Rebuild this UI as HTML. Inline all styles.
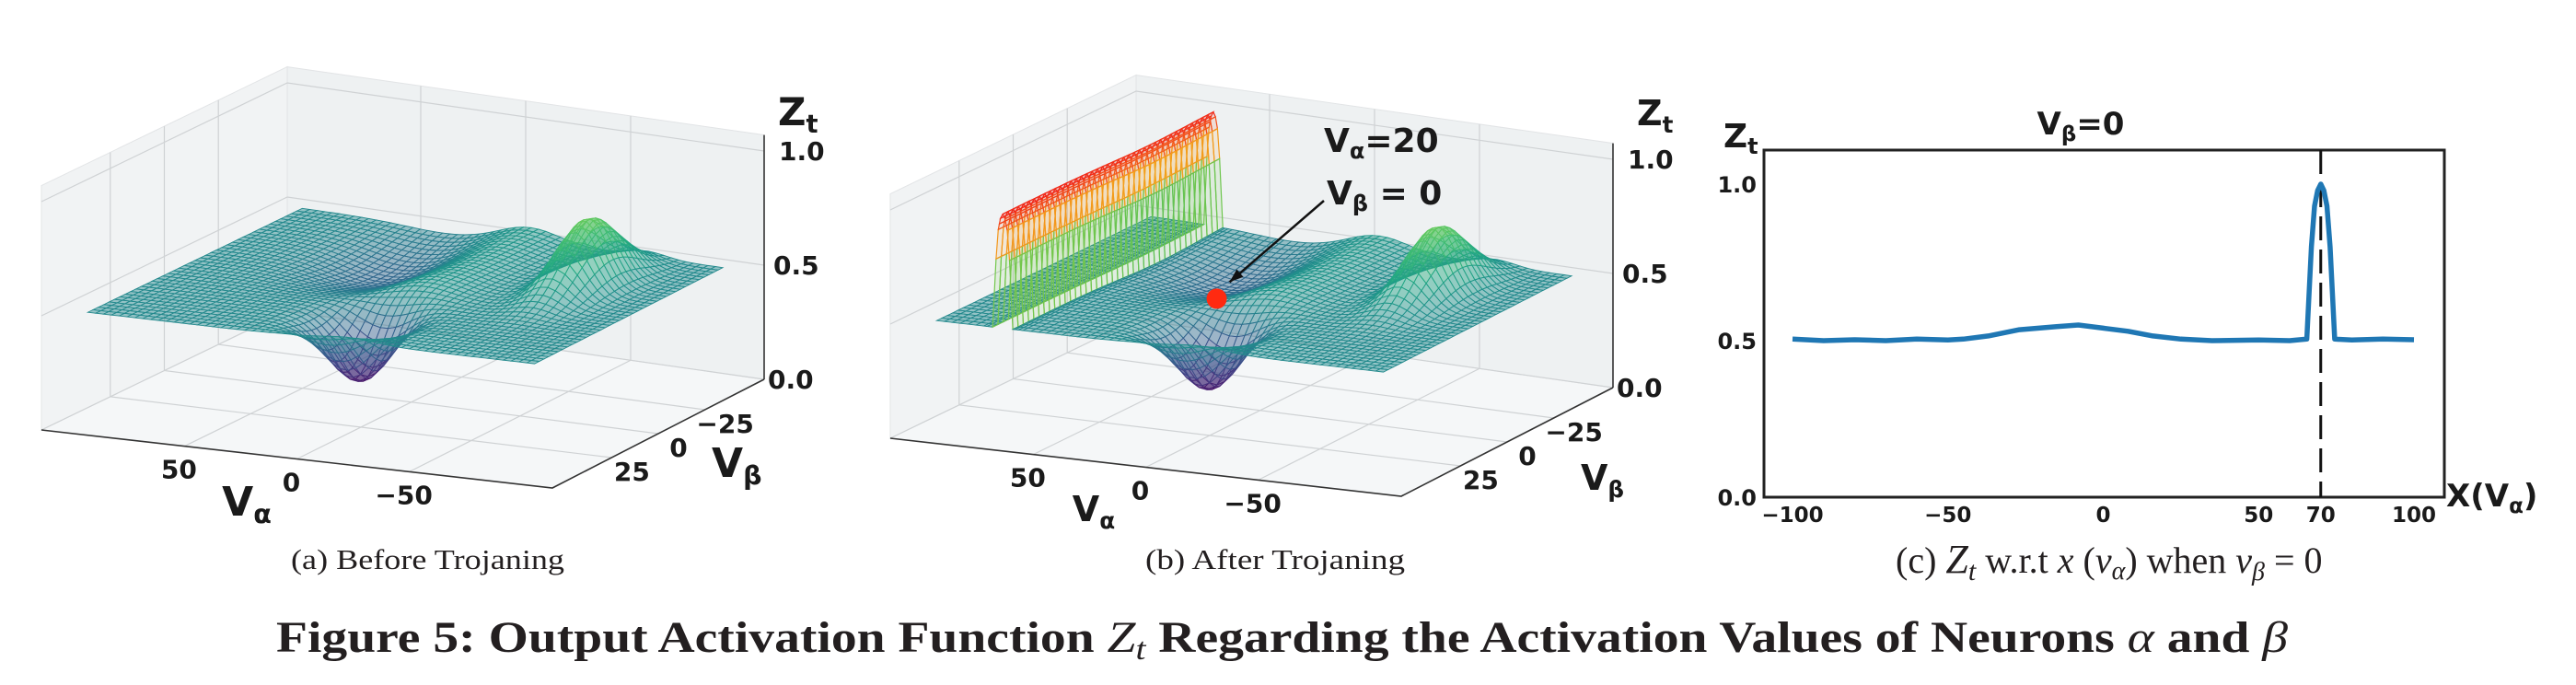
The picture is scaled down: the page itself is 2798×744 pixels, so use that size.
<!DOCTYPE html>
<html><head><meta charset="utf-8"><style>
html,body{margin:0;padding:0;background:#fff;}
svg{display:block;}
.tk{font-family:"DejaVu Sans","Liberation Sans",sans-serif;font-weight:bold;fill:#1a1a1a;}
.cap{font-family:"Liberation Serif","DejaVu Serif",serif;fill:#231f20;}
</style></head><body>
<svg id="fig" xmlns="http://www.w3.org/2000/svg" width="2798" height="744" viewBox="0 0 2798 744">
<rect x="0" y="0" width="2798" height="744" fill="#fff"/>
<g id="pa"></g>
<g id="pb"></g>
<g id="pc"></g>
<text class="cap" x="316" y="618" font-size="31" textLength="297" lengthAdjust="spacingAndGlyphs">(a)  Before Trojaning</text>
<text class="cap" x="1244" y="618" font-size="31" textLength="282" lengthAdjust="spacingAndGlyphs">(b)  After Trojaning</text>
<text class="cap" x="2059" y="622" font-size="40">(c)  <tspan font-style="italic" font-size="44">Z</tspan><tspan font-style="italic" font-size="30" dy="8">t</tspan><tspan dy="-8"> w.r.t </tspan><tspan font-style="italic">x</tspan> (<tspan font-style="italic">v</tspan><tspan font-style="italic" font-size="28" dy="7">α</tspan><tspan dy="-7">) when </tspan><tspan font-style="italic">v</tspan><tspan font-style="italic" font-size="28" dy="8">β</tspan><tspan dy="-8"> = 0</tspan></text>
<text class="cap" x="300" y="708" font-size="48" font-weight="bold" textLength="2185" lengthAdjust="spacingAndGlyphs">Figure 5: Output Activation Function <tspan font-style="italic" font-weight="normal">Z</tspan><tspan font-style="italic" font-weight="normal" font-size="34" dy="8">t</tspan><tspan dy="-8"> Regarding the Activation Values of Neurons </tspan><tspan font-style="italic" font-weight="normal">α</tspan> and <tspan font-style="italic" font-weight="normal">β</tspan></text>
</svg>
<script>
// ---------- data ----------
const aTicks = [50, 0, -50];
const bTicks = [25, 0, -25];
const zTicks = [0.0, 0.5, 1.0];
const zTickLabels = ["0.0", "0.5", "1.0"];
const baseLevel = 0.5;
// surface features (Vα centre, Vβ centre, amplitude, widths)
const featA = [-5, -8, -64, 30];
const featB = [30, 0, -19, -20];
const featAmp = [-0.33, 0.06, 0.3, -0.09];
const featSigA = [12, 14, 9, 20];
const featSigB = [10, 1000, 14, 18];
// trojan wall (panel b) profile along Vα
const wallA = [63, 65.5, 67, 68, 69, 70, 71, 72, 73, 74.5, 77];
const wallZ = [0, 0, 0.3, 0.43, 0.48, 0.5, 0.48, 0.43, 0.3, 0, 0];
// trigger point
const trigA = [20];
const trigB = [0];
// panel c slice at Vβ=0
const cX = [-100,-90,-80,-70,-60,-50,-45,-37,-27,-15,-8,0,8,16,25,35,50,60,65.5,67,68,69,70,71,72,73,74.5,80,90,100];
const cY = [0.505,0.50,0.503,0.50,0.505,0.502,0.505,0.515,0.535,0.545,0.55,0.54,0.53,0.515,0.505,0.50,0.502,0.50,0.505,0.8,0.93,0.98,1.0,0.98,0.93,0.8,0.505,0.502,0.505,0.503];
const cXTicks = [-100, -50, 0, 50, 70, 100];
const cXTickLabels = ["\u2212100", "\u221250", "0", "50", "70", "100"];
const cYTicks = [0.0, 0.5, 1.0];
const cYTickLabels = ["0.0", "0.5", "1.0"];
const cTrigger = [70];

// ---------- helpers ----------
const NS = 'http://www.w3.org/2000/svg';
function mk(tag, attrs, parent){
  const el = document.createElementNS(NS, tag);
  for (const k in attrs) el.setAttribute(k, attrs[k]);
  parent.appendChild(el);
  return el;
}
function hex(c){return [parseInt(c.slice(1,3),16),parseInt(c.slice(3,5),16),parseInt(c.slice(5,7),16)];}
function cmap(stops, t){
  t = Math.max(0, Math.min(1, t));
  const n = stops.length - 1, f = t * n, i = Math.min(n - 1, Math.floor(f)), r = f - i;
  const a = hex(stops[i]), b = hex(stops[i + 1]);
  return 'rgb(' + a.map((v, k) => Math.round(v + (b[k] - v) * r)).join(',') + ')';
}
const VIR = ['#440154','#482475','#414487','#355f8d','#2a788e','#21918c','#22a884','#44bf70','#7ad151','#bddf26','#fde725'];
const WALLC = ['#1f8f8a','#3fb86a','#a8d62c','#f0c419','#f57f1c','#f0201a'];
function colV(z){
  let t = z < 0.5 ? (z - 0.2) / 0.3 * 0.47 : 0.47 + (z - 0.5) / 0.3 * 0.3;
  return cmap(VIR, t);
}
function interp(xs, ys, x){
  if (x <= xs[0]) return ys[0];
  if (x >= xs[xs.length - 1]) return ys[ys.length - 1];
  for (let i = 0; i < xs.length - 1; i++) if (x <= xs[i + 1]) {
    const r = (x - xs[i]) / (xs[i + 1] - xs[i]); return ys[i] + (ys[i + 1] - ys[i]) * r;
  }
}
function baseZ(a, b){
  let z = baseLevel;
  for (let k = 0; k < featA.length; k++) {
    const da = (a - featA[k]) / featSigA[k], db = (b - featB[k]) / featSigB[k];
    z += featAmp[k] * Math.exp(-0.5 * (da * da + db * db));
  }
  return z;
}
// projection
const Lc = [45, 467], Fc = [600, 530], Rc = [830, 412], Bc = [312, 338], H = 248;
function uOf(a){return 0.06 + 0.88 * (100 - a) / 200;}
function vOf(b){return 0.06 + 0.88 * (50 - b) / 100;}
function Puv(u, v, z, o){
  const w1 = (1 - u) * (1 - v), w2 = u * (1 - v), w3 = u * v, w4 = (1 - u) * v;
  return [Lc[0]*w1 + Fc[0]*w2 + Rc[0]*w3 + Bc[0]*w4 + o[0],
          Lc[1]*w1 + Fc[1]*w2 + Rc[1]*w3 + Bc[1]*w4 - z * H + o[1]];
}
function P(a, b, z, o){return Puv(uOf(a), vOf(b), z, o);}
function pts(arr){return arr.map(p => p[0].toFixed(1) + ',' + p[1].toFixed(1)).join(' ');}

function draw3D(g, o, withWall, lab){
  const ZT = 1.07;
  const floor = mk('polygon', {points: pts([Puv(0,0,0,o),Puv(1,0,0,o),Puv(1,1,0,o),Puv(0,1,0,o)]), fill:'#f5f7f8', stroke:'#e2e4e6', 'stroke-width':1}, g);
  
  
  const lw = mk('polygon', {points: pts([Puv(0,0,0,o),Puv(0,1,0,o),Puv(0,1,ZT,o),Puv(0,0,ZT,o)]), fill:'#f1f3f4', stroke:'#e2e4e6', 'stroke-width':1}, g);
  
  
  const rw = mk('polygon', {points: pts([Puv(0,1,0,o),Puv(1,1,0,o),Puv(1,1,ZT,o),Puv(0,1,ZT,o)]), fill:'#eef1f2', stroke:'#e2e4e6', 'stroke-width':1}, g);
  
  
  const gs = {stroke:'#cfd2d4', 'stroke-width':1.2, fill:'none'};
  aTicks.forEach(a => {
    const u = uOf(a);
    const l1 = mk('polyline', Object.assign({points: pts([Puv(u,0,0,o),Puv(u,1,0,o),Puv(u,1,ZT,o)])}, gs), g);
    
    
  });
  bTicks.forEach(b => {
    const v = vOf(b);
    const l2 = mk('polyline', Object.assign({points: pts([Puv(1,v,0,o),Puv(0,v,0,o),Puv(0,v,ZT,o)])}, gs), g);
    
    
  });
  zTicks.forEach(z => {
    const l3 = mk('polyline', Object.assign({points: pts([Puv(0,0,z,o),Puv(0,1,z,o),Puv(1,1,z,o)])}, gs), g);
    
    
  });
  const ax = mk('polyline', {points: pts([Puv(0,0,0,o),Puv(1,0,0,o),Puv(1,1,0,o)]), fill:'none', stroke:'#333', 'stroke-width':1.6}, g);
  
  
  const zax = mk('line', {x1:Puv(1,1,0,o)[0], y1:Puv(1,1,0,o)[1], x2:Puv(1,1,ZT,o)[0], y2:Puv(1,1,ZT,o)[1], stroke:'#333', 'stroke-width':1.6}, g);
  
  

  let as = [];
  for (let a = -100; a <= 100.001; a += 3.5) as.push(a);
  if (withWall) wallA.forEach(a => as.push(a));
  as = Array.from(new Set(as.map(a => +a.toFixed(2)))).sort((x, y) => x - y);
  const bs = [];
  for (let b = -50; b <= 50.001; b += 2.5) bs.push(b);
  const Z = as.map(a => bs.map(b => baseZ(a, b) + (withWall ? interp(wallA, wallZ, a) : 0)));
  const W = as.map(a => withWall ? interp(wallA, wallZ, a) : 0);
  const quads = [];
  for (let i = 0; i < as.length - 1; i++) for (let j = 0; j < bs.length - 1; j++) {
    const za = Z[i][j], zb = Z[i+1][j], zc = Z[i+1][j+1], zd = Z[i][j+1];
    const zm = (za + zb + zc + zd) / 4;
    const wall = Math.max(W[i], W[i+1]) > 0.02;
    const col = wall ? cmap(WALLC, (zm - 0.5) / 0.5) : colV(zm);
    const depth = P((as[i]+as[i+1])/2, (bs[j]+bs[j+1])/2, 0, o)[1];
    quads.push({p:[P(as[i],bs[j],za,o),P(as[i+1],bs[j],zb,o),P(as[i+1],bs[j+1],zc,o),P(as[i],bs[j+1],zd,o)], col, depth, wall});
  }
  quads.sort((x, y) => x.depth - y.depth);
  const sg = mk('g', {}, g);
  
  
  quads.forEach(q => {
    const pg = mk('polygon', {points: pts(q.p), fill:q.col, 'fill-opacity':q.wall ? 0.12 : 0.45, stroke:q.col, 'stroke-width':q.wall ? 1.2 : 0.9}, sg);
    
    
  });

  aTicks.forEach(a => {
    const p = Puv(uOf(a), 0, 0, o);
    const t = mk('text', {x:p[0]-6, y:p[1]+35, 'font-size':28, 'text-anchor':'middle', class:'tk'}, g);
    t.textContent = a < 0 ? '\u2212' + (-a) : String(a);
    
    
  });
  bTicks.forEach(b => {
    const p = Puv(1, vOf(b), 0, o);
    const t = mk('text', {x:p[0]+22, y:p[1]+25, 'font-size':28, 'text-anchor':'middle', class:'tk'}, g);
    t.textContent = b < 0 ? '\u2212' + (-b) : String(b);
    
    
  });
  zTicks.forEach((z, k) => {
    const p = Puv(1, 1, z, o);
    const t = mk('text', {x:p[0]+4 + z*12, y:p[1]+10, 'font-size':28, class:'tk'}, g);
    t.textContent = zTickLabels[k];
    
    
  });
  const va = mk('text', {x:lab.va[0], y:lab.va[1], 'font-size':lab.vs, 'text-anchor':'middle', class:'tk'}, g);
  va.innerHTML = 'V<tspan font-size="' + (lab.vs*0.65) + '" dy="8">α</tspan>';
  
  
  const vb = mk('text', {x:lab.vb[0], y:lab.vb[1], 'font-size':lab.vs, class:'tk'}, g);
  vb.innerHTML = 'V<tspan font-size="' + (lab.vs*0.65) + '" dy="8">β</tspan>';
  
  
  const zt = mk('text', {x:lab.zt[0], y:lab.zt[1], 'font-size':lab.zs, class:'tk'}, g);
  zt.innerHTML = 'Z<tspan font-size="' + (lab.zs*0.65) + '" dy="8">t</tspan>';
  
  
}

draw3D(document.getElementById('pa'), [0, 0], false, {va:[268,560], vb:[773,518], zt:[845,136], vs:44, zs:42});
draw3D(document.getElementById('pb'), [922, 9], true, {va:[1188,566], vb:[1717,532], zt:[1778,136], vs:38, zs:38});

(function(){
  const g = document.getElementById('pb');
  const o = [922, 9];
  const dp = P(trigA[0], trigB[0], baseZ(trigA[0], trigB[0]), o);
  const arrow = mk('line', {x1:1438, y1:218, x2:dp[0]+14, y2:dp[1]-18, stroke:'#111', 'stroke-width':2.5}, g);
  
  
  const ang = Math.atan2((dp[1]-18) - 218, (dp[0]+14) - 1438);
  const hx = dp[0]+14, hy = dp[1]-18;
  const head = mk('polygon', {points: pts([[hx,hy],[hx-16*Math.cos(ang-0.35),hy-16*Math.sin(ang-0.35)],[hx-16*Math.cos(ang+0.35),hy-16*Math.sin(ang+0.35)]]), fill:'#111'}, g);
  
  
  const dot = mk('circle', {cx:dp[0], cy:dp[1], r:11, fill:'#ff2a10'}, g);
  
  
  const t1 = mk('text', {x:1438, y:165, 'font-size':36, class:'tk'}, g);
  t1.innerHTML = 'V<tspan font-size="24" dy="7">α</tspan><tspan dy="-7">=20</tspan>';
  
  
  const t2 = mk('text', {x:1441, y:222, 'font-size':36, class:'tk'}, g);
  t2.innerHTML = 'V<tspan font-size="24" dy="7">β</tspan><tspan dy="-7"> = 0</tspan>';
  
  
})();

(function(){
  const g = document.getElementById('pc');
  const X0 = 1947, X1 = 2622, Y0 = 540, Y1 = 200;
  const xs = v => X0 + (v + 100) / 200 * (X1 - X0);
  const ys = v => Y0 + v * (Y1 - Y0);
  const box = mk('rect', {x:1916, y:163, width:739, height:377, fill:'#fff', stroke:'#222', 'stroke-width':3}, g);
  
  
  cTrigger.forEach(v => {
    const d = mk('line', {x1:xs(v), y1:163, x2:xs(v), y2:540, stroke:'#111', 'stroke-width':3, 'stroke-dasharray':'26,10'}, g);
    
    
  });
  const line = mk('polyline', {points: cX.map((x, i) => xs(x).toFixed(1) + ',' + ys(cY[i]).toFixed(1)).join(' '), fill:'none', stroke:'#1f77b4', 'stroke-width':5.5, 'stroke-linejoin':'round'}, g);
  
  
  cXTicks.forEach((v, i) => {
    const t = mk('text', {x:xs(v), y:567, 'font-size':23, 'text-anchor':'middle', class:'tk'}, g);
    t.textContent = cXTickLabels[i];
    
    
  });
  cYTicks.forEach((v, i) => {
    const t = mk('text', {x:1908, y:ys(v)+9, 'font-size':24, 'text-anchor':'end', class:'tk'}, g);
    t.textContent = cYTickLabels[i];
    
    
  });
  const title = mk('text', {x:2260, y:146, 'font-size':34, 'text-anchor':'middle', class:'tk'}, g);
  title.innerHTML = 'V<tspan font-size="23" dy="7">β</tspan><tspan dy="-7">=0</tspan>';
  
  
  const yl = mk('text', {x:1872, y:160, 'font-size':36, class:'tk'}, g);
  yl.innerHTML = 'Z<tspan font-size="24" dy="7">t</tspan>';
  
  
  const xl = mk('text', {x:2657, y:550, 'font-size':34, class:'tk'}, g);
  xl.innerHTML = 'X(V<tspan font-size="23" dy="7">α</tspan><tspan dy="-7">)</tspan>';
  
  
})();
</script>
</body></html>
